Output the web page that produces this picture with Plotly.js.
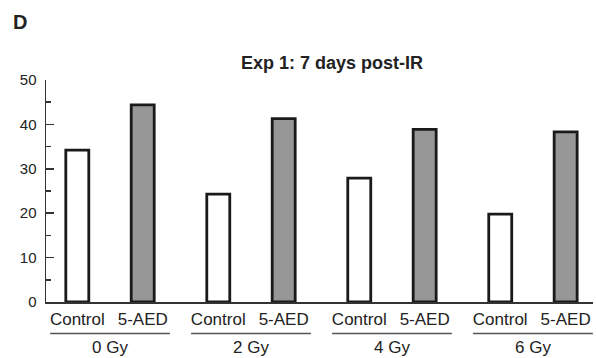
<!DOCTYPE html>
<html>
<head>
<meta charset="utf-8">
<script src="https://cdn.plot.ly/plotly-3.0.1.min.js"></script>
<style>html,body{margin:0;padding:0;background:#fff;}#chart{width:596px;height:358px;}</style>
</head>
<body>
<div id="chart"></div>
<script>
const groups = ["0 Gy", "2 Gy", "4 Gy", "6 Gy"];
const seriesNames = ["Control", "5-AED"];
const controlValues = [34.2, 24.3, 27.9, 19.8];
const aedValues = [44.4, 41.3, 38.9, 38.3];
const yTicks = [0, 10, 20, 30, 40, 50];

const OFF = 0.232, BW = 0.163;
const gIdx = groups.map((g, i) => i);
const xCtrl = gIdx.map(i => i - OFF);
const xAed = gIdx.map(i => i + OFF);

const FONT = "Liberation Sans, Arial, sans-serif";
const INK = "#222";

const traces = [
  {type: "bar", name: seriesNames[0], x: xCtrl, y: controlValues, width: BW,
   marker: {color: "#ffffff", line: {color: "#1a1a1a", width: 2.8}}, hoverinfo: "skip"},
  {type: "bar", name: seriesNames[1], x: xAed, y: aedValues, width: BW,
   marker: {color: "#979797", line: {color: "#1a1a1a", width: 2.8}}, hoverinfo: "skip"}
];

const tickvals = [], ticktext = [];
gIdx.forEach(i => { tickvals.push(xCtrl[i], xAed[i]); ticktext.push(seriesNames[0], seriesNames[1]); });

const annotations = groups.map((g, i) => ({
  text: g, x: i, xref: "x", y: -0.2066, yref: "paper", yanchor: "middle", xanchor: "center",
  showarrow: false, font: {family: FONT, size: 17, color: INK}
}));
annotations.push({text: "<b>D</b>", xref: "paper", yref: "paper", x: -0.064, y: 1.262,
  xanchor: "left", yanchor: "middle", showarrow: false, font: {family: FONT, size: 20, color: INK}});

const shapes = groups.map((g, i) => ({
  type: "line", xref: "x", yref: "paper", x0: i - 0.425, x1: i + 0.425, y0: -0.142, y1: -0.142,
  line: {color: "#555", width: 1.5}
}));

const layout = {
  width: 596, height: 358,
  margin: {l: 46, r: 3, t: 80, b: 56.3, pad: 0},
  paper_bgcolor: "#fff", plot_bgcolor: "#fff",
  showlegend: false,
  title: {text: "<b>Exp 1: 7 days post-IR</b>", x: 0.523, xref: "paper", font: {family: FONT, size: 18, color: INK},
          y: 0.824, yref: "container", xanchor: "center", yanchor: "middle"},
  xaxis: {range: [-0.454, 3.426], tickvals: tickvals, ticktext: ticktext, showgrid: false, zeroline: false,
          showline: true, linecolor: "#333", linewidth: 1.5, ticks: "", ticklabelstandoff: 1,
          tickfont: {family: FONT, size: 17, color: INK}, fixedrange: true},
  yaxis: {range: [0, 50], tickvals: yTicks, showgrid: false, zeroline: false, showline: true,
          linecolor: "#333", linewidth: 1.5, ticks: "inside", ticklen: 8, tickwidth: 1.5, tickcolor: "#333",
          minor: {ticks: "inside", ticklen: 5, tickwidth: 1.5, tickcolor: "#333", dtick: 5},
          tickfont: {family: FONT, size: 15, color: INK}, ticklabelstandoff: 5, fixedrange: true},
  annotations: annotations,
  shapes: shapes
};

Plotly.newPlot("chart", traces, layout, {displayModeBar: false, staticPlot: true});
</script>
</body>
</html>
